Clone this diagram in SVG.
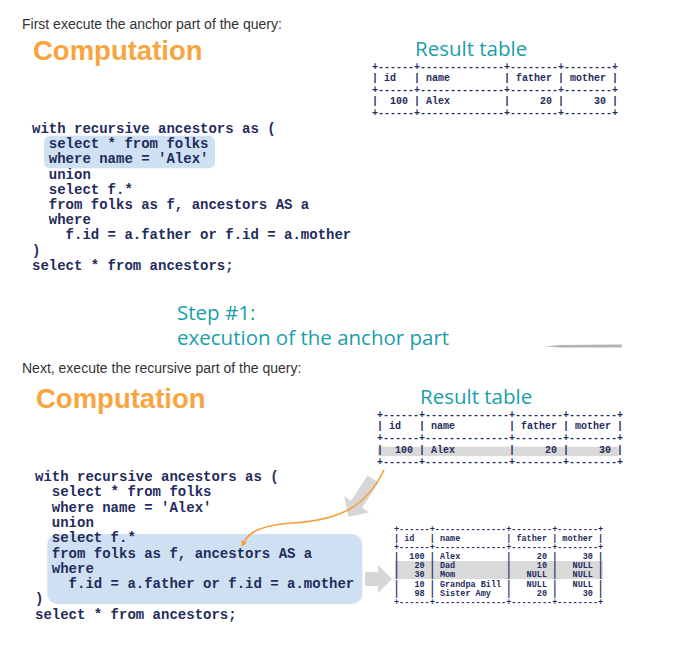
<svg xmlns="http://www.w3.org/2000/svg" width="693" height="646" viewBox="0 0 693 646">
<style>
.intro{font-family:"Liberation Sans",Arial,sans-serif;font-size:14px;fill:#333}
.comp{font-family:"Liberation Sans",Arial,sans-serif;font-size:27.5px;font-weight:bold;fill:#f9a53f}
.title{font-family:"Open Sans",sans-serif;font-size:20.5px;fill:#1a9fa8}
.code{font-family:"Liberation Mono",monospace;font-size:14px;font-weight:bold;fill:#1f2c5c;white-space:pre}
.tbl{font-family:"Liberation Mono",monospace;font-size:10px;font-weight:bold;fill:#1f2c5c;white-space:pre}
.tbls{font-family:"Liberation Mono",monospace;font-size:8.5px;font-weight:bold;fill:#1f2c5c;white-space:pre}
.hl{fill:#cfe0f2}
.row{fill:#d9d9d9}
.garrow{fill:#d6d6d6}
</style>
<defs>
<marker id="oa" viewBox="0 0 10 10" refX="5" refY="5" markerWidth="4" markerHeight="4" orient="auto">
<path d="M0,0 L10,5 L0,10 z" fill="#f5a03a"/>
</marker>
</defs>
<rect width="693" height="646" fill="#fff"/>

<g id="intro1"><text class="intro" x="22" y="29.3">First execute the anchor part of the query:</text></g>
<g id="comp1"><text class="comp" x="33" y="60">Computation</text></g>
<g id="rt1-title"><text class="title" x="415" y="56">Result table</text></g>

<g id="result1" xml:space="preserve">
<text class="tbl" x="372" y="69.5">+------+--------------+--------+--------+</text>
<text class="tbl" x="372" y="81">| id   | name         | father | mother |</text>
<text class="tbl" x="372" y="92.5">+------+--------------+--------+--------+</text>
<text class="tbl" x="372" y="104">|  100 | Alex         |     20 |     30 |</text>
<text class="tbl" x="372" y="115.5">+------+--------------+--------+--------+</text>
</g>

<g id="code1" xml:space="preserve">
<rect class="hl" x="44" y="135.7" width="171" height="32.6" rx="6"/>
<text class="code" x="32" y="133">with recursive ancestors as (</text>
<text class="code" x="32" y="148.2">  select * from folks</text>
<text class="code" x="32" y="163.4">  where name = 'Alex'</text>
<text class="code" x="32" y="178.6">  union</text>
<text class="code" x="32" y="193.8">  select f.*</text>
<text class="code" x="32" y="209">  from folks as f, ancestors AS a</text>
<text class="code" x="32" y="224.2">  where</text>
<text class="code" x="32" y="239.4">    f.id = a.father or f.id = a.mother</text>
<text class="code" x="32" y="254.6">)</text>
<text class="code" x="32" y="269.8">select * from ancestors;</text>
</g>

<g id="step1">
<text class="title" x="177" y="319.5">Step #1:</text>
<text class="title" x="177" y="344.5">execution of the anchor part</text>
</g>
<g id="divider"><polygon points="545,346.6 560,345 622,344.6 622,347.6 560,347.6" fill="#b3b3b3"/></g>

<g id="intro2"><text class="intro" x="22" y="373.3">Next, execute the recursive part of the query:</text></g>
<g id="comp2"><text class="comp" x="36" y="407.5">Computation</text></g>
<g id="rt2-title"><text class="title" x="420" y="404">Result table</text></g>

<g id="result2" xml:space="preserve">
<rect class="row" x="378" y="446.7" width="242" height="9.5"/>
<text class="tbl" x="377" y="417.5">+------+--------------+--------+--------+</text>
<text class="tbl" x="377" y="429.3">| id   | name         | father | mother |</text>
<text class="tbl" x="377" y="441.1">+------+--------------+--------+--------+</text>
<text class="tbl" x="377" y="452.9">|  100 | Alex         |     20 |     30 |</text>
<text class="tbl" x="377" y="464.7">+------+--------------+--------+--------+</text>
</g>

<g id="code2" xml:space="preserve">
<rect class="hl" x="47.3" y="534" width="315" height="70" rx="10"/>
<text class="code" x="35" y="481">with recursive ancestors as (</text>
<text class="code" x="35" y="496.3">  select * from folks</text>
<text class="code" x="35" y="511.6">  where name = 'Alex'</text>
<text class="code" x="35" y="526.9">  union</text>
<text class="code" x="35" y="542.2">  select f.*</text>
<text class="code" x="35" y="557.5">  from folks as f, ancestors AS a</text>
<text class="code" x="35" y="572.8">  where</text>
<text class="code" x="35" y="588.1">    f.id = a.father or f.id = a.mother</text>
<text class="code" x="35" y="603.4">)</text>
<text class="code" x="35" y="618.7">select * from ancestors;</text>
</g>

<g id="result3" xml:space="preserve">
<rect class="row" x="395" y="561" width="208" height="18"/>
<text class="tbls" x="394" y="531.5">+------+--------------+--------+--------+</text>
<text class="tbls" x="394" y="540.7">| id   | name         | father | mother |</text>
<text class="tbls" x="394" y="549.8">+------+--------------+--------+--------+</text>
<text class="tbls" x="394" y="559">|  100 | Alex         |     20 |     30 |</text>
<text class="tbls" x="394" y="568.1">|   20 | Dad          |     10 |   NULL |</text>
<text class="tbls" x="394" y="577.3">|   30 | Mom          |   NULL |   NULL |</text>
<text class="tbls" x="394" y="586.5">|   10 | Grandpa Bill |   NULL |   NULL |</text>
<text class="tbls" x="394" y="595.6">|   98 | Sister Amy   |     20 |     30 |</text>
<text class="tbls" x="394" y="604.8">+------+--------------+--------+--------+</text>
</g>

<g id="connectors">
<polygon class="garrow" points="378.5,482.5 362.1,507.7 369.3,512.4 348.5,516.8 344.1,496 351.2,500.7 367.5,475.5"/>
<polygon class="garrow" points="365,572 378,572 378,565 392,579 378,593 378,586 365,586"/>
<path d="M384,470 C368,503 345,520 292,523 C262,525 248,532 243,544" fill="none" stroke="#f5a03a" stroke-width="1.6" marker-end="url(#oa)"/>
</g>
</svg>
